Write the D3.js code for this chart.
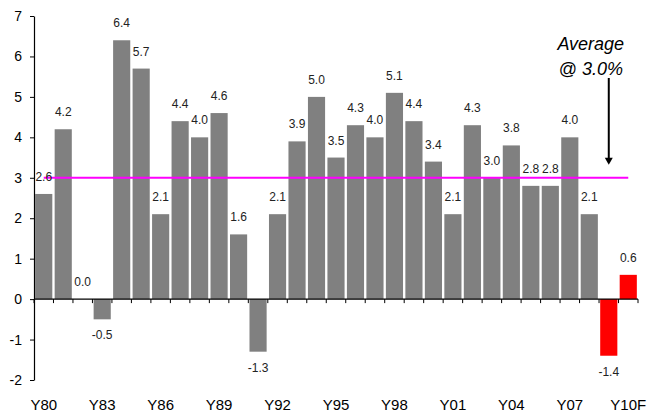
<!DOCTYPE html>
<html>
<head>
<meta charset="utf-8">
<script src="https://cdn.jsdelivr.net/npm/d3@7"></script>
<style>
  html, body { margin: 0; padding: 0; background: #fff; }
  svg { display: block; font-family: "Liberation Sans", Arial, Helvetica, sans-serif; }
</style>
</head>
<body>
<svg id="chart" width="647" height="414"></svg>
<script>
// Annual growth, %
const years = ["Y80","Y81","Y82","Y83","Y84","Y85","Y86","Y87","Y88","Y89",
               "Y90","Y91","Y92","Y93","Y94","Y95","Y96","Y97","Y98","Y99",
               "Y00","Y01","Y02","Y03","Y04","Y05","Y06","Y07","Y08","Y09","Y10F"];
const growth = [2.6, 4.2, 0.0, -0.5, 6.4, 5.7, 2.1, 4.4, 4.0, 4.6,
                1.6, -1.3, 2.1, 3.9, 5.0, 3.5, 4.3, 4.0, 5.1, 4.4,
                3.4, 2.1, 4.3, 3.0, 3.8, 2.8, 2.8, 4.0, 2.1, -1.4, 0.6];
const recessionYears = ["Y09", "Y10F"];
const xTickLabels = ["Y80","Y83","Y86","Y89","Y92","Y95","Y98","Y01","Y04","Y07","Y10F"];
const yTicks = [-2, -1, 0, 1, 2, 3, 4, 5, 6, 7];
const average = 3.0;
const averageLines = ["Average", "@ 3.0%"];
const arrowAt = "Y09";

const svg = d3.select("#chart");
const plotLeft = 34, plotRight = 638, plotTop = 16, plotBottom = 380;

const x = d3.scaleBand().domain(years).range([plotLeft, plotRight])
  .paddingInner(0.12).paddingOuter(0.06);
const y = d3.scaleLinear().domain([-2, 7]).range([plotBottom, plotTop]);
const step = x.step();

// bars
svg.append("g").selectAll("rect").data(years).join("rect")
  .attr("x", d => x(d))
  .attr("width", x.bandwidth())
  .attr("y", (d, i) => y(Math.max(0, growth[i])))
  .attr("height", (d, i) => Math.abs(y(growth[i]) - y(0)))
  .attr("fill", d => recessionYears.includes(d) ? "#ff0000" : "#808080");

// y axis
const yAxis = svg.append("g")
  .attr("transform", `translate(${plotLeft},0)`)
  .call(d3.axisLeft(y).tickValues(yTicks).tickSize(4).tickSizeOuter(0).tickPadding(8).tickFormat(d3.format("d")));
yAxis.select(".domain").attr("stroke", "#000").attr("stroke-width", 1.2);
yAxis.selectAll(".tick line").attr("stroke", "#000");
yAxis.selectAll(".tick text").attr("font-size", 14).attr("fill", "#000")
  .attr("font-family", "Liberation Sans, Arial, sans-serif")
  .text(d => d < 0 ? "-" + Math.abs(d) : String(d));

// x axis line with ticks at category boundaries
const xAxis = svg.append("g");
xAxis.append("line")
  .attr("x1", plotLeft).attr("x2", plotRight).attr("y1", y(0)).attr("y2", y(0))
  .attr("stroke", "#000").attr("stroke-width", 1.2);
xAxis.selectAll("line.tk").data(d3.range(years.length + 1)).join("line")
  .attr("class", "tk")
  .attr("x1", i => x(years[0]) - step * x.paddingOuter() + i * step)
  .attr("x2", i => x(years[0]) - step * x.paddingOuter() + i * step)
  .attr("y1", y(0)).attr("y2", y(0) + 4)
  .attr("stroke", "#000").attr("stroke-width", 1);
xAxis.selectAll("text").data(xTickLabels).join("text")
  .attr("x", d => x(d) + x.bandwidth() / 2)
  .attr("y", 410)
  .attr("text-anchor", "middle")
  .attr("font-size", 15)
  .attr("fill", "#000")
  .text(d => d);

// average line
svg.append("line")
  .attr("x1", x(years[0]) + x.bandwidth() / 2)
  .attr("x2", x(years[years.length - 1]) + x.bandwidth() / 2)
  .attr("y1", y(average)).attr("y2", y(average))
  .attr("stroke", "#ff00ff").attr("stroke-width", 2);

// value labels
svg.append("g").selectAll("text").data(years).join("text")
  .attr("x", d => x(d) + x.bandwidth() / 2)
  .attr("y", (d, i) => growth[i] < 0 ? y(growth[i]) + 20 : y(growth[i]) - 13)
  .attr("text-anchor", "middle")
  .attr("font-size", 12)
  .attr("fill", "#222")
  .text((d, i) => growth[i].toFixed(1));

// annotation
const ax = x(arrowAt) + x.bandwidth() / 2;
const ann = svg.append("g");
ann.selectAll("text").data(averageLines).join("text")
  .attr("x", ax - 18)
  .attr("y", (d, i) => 50 + i * 25)
  .attr("text-anchor", "middle")
  .attr("font-size", 18)
  .attr("font-style", "italic")
  .attr("fill", "#000")
  .text(d => d);
const tipY = y(average) - 13;
ann.append("line")
  .attr("x1", ax).attr("x2", ax)
  .attr("y1", 78).attr("y2", tipY - 6)
  .attr("stroke", "#000").attr("stroke-width", 2);
ann.append("path")
  .attr("d", `M${ax - 4},${tipY - 7} L${ax + 4},${tipY - 7} L${ax},${tipY} Z`)
  .attr("fill", "#000");
</script>
</body>
</html>
